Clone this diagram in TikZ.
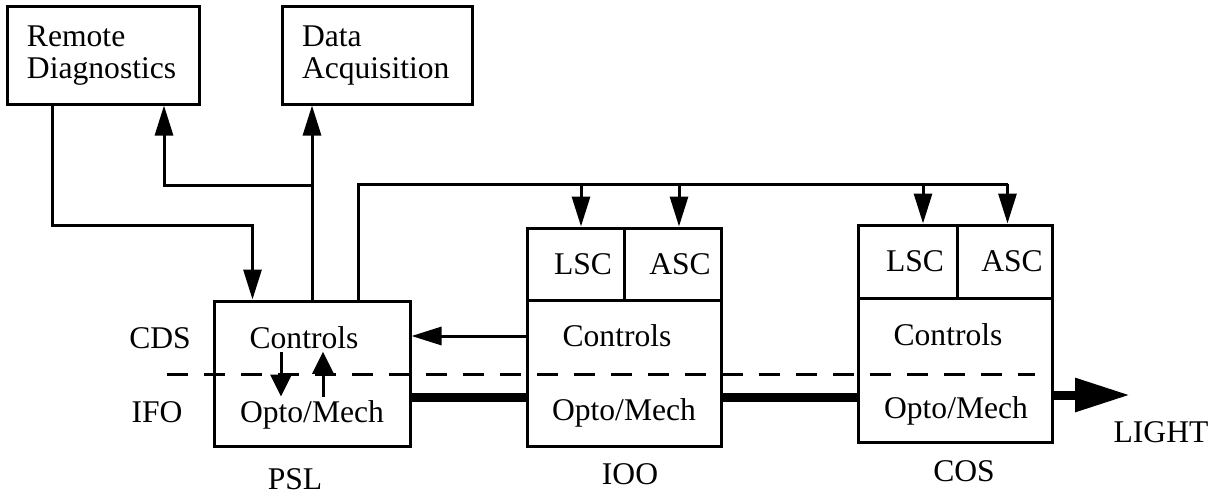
\documentclass[tikz,border=0pt]{standalone}
\usepackage{fontspec}
\setmainfont{Liberation Serif}
\usetikzlibrary{arrows.meta,calc}

\begin{document}
\begin{tikzpicture}[x=1pt, y=-1pt, line width=3pt,
	box/.style={draw, rectangle, inner sep=0pt, font=\fontsize{31.6}{32}\selectfont},
	cell/.style={box, execute at begin node={\hspace*{15pt}}},
	txt/.style={anchor=base, inner sep=2pt, font=\fontsize{31.6}{32}\selectfont},
	arr/.style={-{Triangle[length=30pt, width=18pt]}},
	arrs/.style={-{Triangle[length=22pt, width=21pt]}},
	beam/.style={line width=9pt},
	]
	\useasboundingbox (0,0) rectangle (1222,495);

	% top boxes
	\node[box, minimum width=192pt, minimum height=97pt, text width=152pt, align=left] (rd) at (103,55.5) {Remote\\Diagnostics};
	\node[box, minimum width=190pt, minimum height=97pt, text width=150pt, align=left] (da) at (377,55.5) {Data\\Acquisition};

	% subsystems
	\node[box, minimum width=196pt, minimum height=145pt] (psl) at (312,373.5) {};
	\node[box, minimum width=194pt, minimum height=146pt] (ioo) at (624,373) {};
	\node[cell, minimum width=97pt, minimum height=72pt] (iooL) at (575.5,264) {LSC};
	\node[cell, minimum width=97pt, minimum height=72pt] (iooA) at (672.5,264) {ASC};
	\node[box, minimum width=194pt, minimum height=144pt] (cos) at (955,370) {};
	\node[cell, minimum width=99pt, minimum height=73pt] (cosL) at (907.5,261.5) {LSC};
	\node[cell, minimum width=95pt, minimum height=73pt] (cosA) at (1004.5,261.5) {ASC};

	\node[txt] (pslC) at (304,348) {Controls};
	\node[txt] (pslO) at (312,422) {Opto/Mech};
	\node[txt] (iooC) at (617,346) {Controls};
	\node[txt] (iooO) at (624,420) {Opto/Mech};
	\node[txt] (cosC) at (948,345) {Controls};
	\node[txt] (cosO) at (956,418) {Opto/Mech};

	% labels
	\node[txt] (cds) at (160,348) {CDS};
	\node[txt] (ifo) at (157,422) {IFO};
	\node[txt] (pslname) at (295,489) {PSL};
	\node[txt] (iooname) at (630,484) {IOO};
	\node[txt] (cosname) at (964,481) {COS};
	\node[txt] (lightname) at (1161,442) {LIGHT};

	% CDS / IFO border
	\draw[dash pattern=on 21pt off 16pt] (167,374) -- (1035,374);

	% light path
	\draw[beam] ($(psl.east)+(0,23.5)$) -- ($(ioo.west)+(0,24)$);
	\draw[beam] ($(ioo.east)+(0,24)$) -- ($(cos.west)+(0,27)$);
	\coordinate (light) at (1130,395);
	\draw[beam, -{Triangle[length=55pt, width=32pt]}] ($(cos.east)+(0,25)$) -- (light);

	% signals
	\draw[arr] ($(ioo.west)+(0,-37)$) -- ($(psl.east)+(0,-37.5)$);
	\draw[arr] (psl.north) -- (psl.north |- da.south);
	\draw[arr] ($(psl.north)+(0,-114)$) -| ($(rd.south)+(61,0)$);
	\draw[arr] ($(rd.south west)+(47,0)$) |- ($(psl.north west)+(40,-74)$) -- ($(psl.north west)+(40,0)$);
	\draw ($(psl.north east)+(-53,0)$) |- ($(cosA.north)+(3,-39.5)$);
	\foreach \c/\dx/\dy in {iooL/5.5/-42.5, iooA/6.5/-42.5, cosL/15.5/-39.5, cosA/3/-39.5}
		\draw[arr] ($(\c.north)+(\dx,\dy)$) -- ($(\c.north)+(\dx,0)$);
	\draw[arrs] ($(pslC.south)+(-23,0)$) -- ($(pslO.north)+(-31,0)$);
	\draw[arrs] ($(pslO.north)+(11,0)$) -- ($(pslC.south)+(19,0)$);

\end{tikzpicture}
\end{document}
